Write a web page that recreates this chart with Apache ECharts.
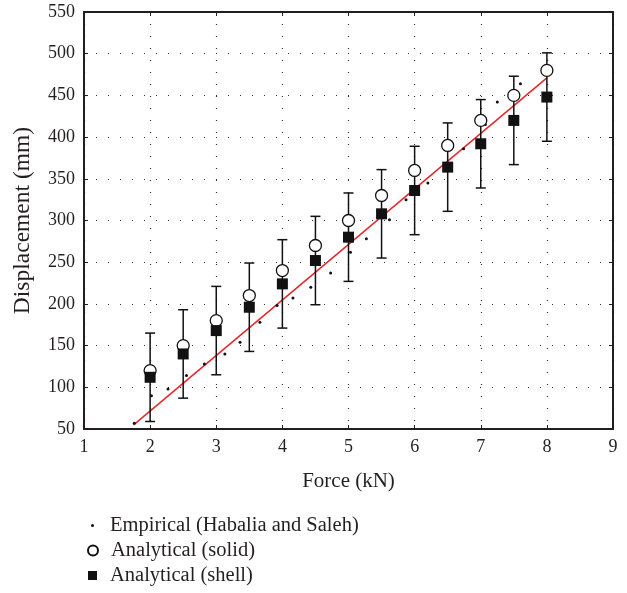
<!DOCTYPE html>
<html>
<head>
<meta charset="utf-8">
<script src="https://cdn.jsdelivr.net/npm/echarts@6/dist/echarts.min.js"></script>
<style>
  html, body { margin: 0; padding: 0; background: #fff; }
  #chart { width: 627px; height: 593px; }
</style>
</head>
<body>
<div id="chart"></div>
<script>
// Force (kN) at which analytical values were computed
const forces = [2, 2.5, 3, 3.5, 4, 4.5, 5, 5.5, 6, 6.5, 7, 7.5, 8];
const solidDisp = [120, 150, 180, 210, 240, 270, 300, 330, 360, 390, 420, 450, 480];
const shellDisp = [112, 140, 168, 196, 224, 252, 280, 308, 336, 364, 392, 420, 448];
const errHigh = [165, 193, 221, 249, 277, 305, 333, 361, 389, 417, 445, 473, 501];
const errLow = [59, 87, 115, 143, 171, 199, 227, 255, 283, 311, 339, 367, 395];

// Empirical points (Habalia and Saleh)
const empForce = [1.76, 2.02, 2.27, 2.55, 2.82, 3.13, 3.36, 3.66, 3.92, 4.16, 4.43, 4.73, 5.03, 5.27, 5.62, 5.87, 6.2, 6.74, 7.07, 7.25, 7.6];
const empDisp = [57, 90, 98, 114, 128, 140, 154, 178, 198, 207, 220, 237, 262, 278, 301, 325, 345, 386, 415, 442, 464];

// red fit line end points
const fitForce = [1.75, 8];
const fitDisp = [55, 471];

const names = ['Empirical (Habalia and Saleh)', 'Analytical (solid)', 'Analytical (shell)'];

const font = 'Liberation Serif';
const ink = '#231f20';
const mark = '#111';

const chart = echarts.init(document.getElementById('chart'));

const frameAxis = (show) => ({
  axisLine: { show: true, onZero: false, lineStyle: { color: ink, width: 2 } },
  axisTick: { show: true, inside: true, length: 4, lineStyle: { color: ink, width: 1 } },
  axisLabel: { show: show, color: ink, fontFamily: font, fontSize: 18, margin: 9 },
  splitLine: { show: false }
});

const gridDots = { show: true, lineStyle: { color: '#333', width: 1.2, type: [1, 11] } };

const legendItem = (name, top, left, size, pad) => ({
  data: [name],
  orient: 'vertical',
  top: top,
  left: left,
  padding: 0,
  itemWidth: size,
  itemHeight: size,
  selectedMode: false,
  textStyle: { color: ink, fontFamily: font, fontSize: 20.5, padding: [0, 0, 0, pad] }
});

chart.setOption({
  animation: false,
  grid: { left: 84, right: 14, top: 12, bottom: 164 },
  legend: [
    legendItem(names[0], 515, 91, 3, 11),
    legendItem(names[1], 540, 87, 10, 8),
    legendItem(names[2], 565, 88, 9, 8)
  ],
  xAxis: [
    Object.assign(frameAxis(true), {
      type: 'value', min: 1, max: 9, interval: 1,
      name: 'Force (kN)', nameLocation: 'middle', nameGap: 42,
      nameTextStyle: { color: ink, fontFamily: font, fontSize: 21 },
      splitLine: gridDots
    }),
    Object.assign(frameAxis(false), {
      type: 'value', min: 1, max: 9, interval: 1, position: 'top'
    })
  ],
  yAxis: [
    Object.assign(frameAxis(true), {
      type: 'value', min: 50, max: 550, interval: 50,
      name: 'Displacement (mm)', nameLocation: 'middle', nameGap: 49,
      nameTextStyle: { color: ink, fontFamily: font, fontSize: 23.5 },
      splitLine: gridDots
    }),
    Object.assign(frameAxis(false), {
      type: 'value', min: 50, max: 550, interval: 50, position: 'right'
    })
  ],
  series: [
    {
      name: 'fit',
      type: 'line',
      data: fitForce.map((f, i) => [f, fitDisp[i]]),
      symbol: 'none',
      lineStyle: { color: '#e8262a', width: 1.5 },
      z: 3
    },
    {
      name: 'errors',
      type: 'custom',
      data: forces.map((f, i) => [f, errLow[i], errHigh[i]]),
      renderItem: (params, api) => {
        const lo = api.coord([api.value(0), api.value(1)]);
        const hi = api.coord([api.value(0), api.value(2)]);
        const hw = 5;
        const style = { stroke: mark, lineWidth: 1.5, fill: null };
        return {
          type: 'group',
          children: [
            { type: 'line', shape: { x1: hi[0], y1: hi[1], x2: lo[0], y2: lo[1] }, style: style },
            { type: 'line', shape: { x1: hi[0] - hw, y1: hi[1], x2: hi[0] + hw, y2: hi[1] }, style: style },
            { type: 'line', shape: { x1: lo[0] - hw, y1: lo[1], x2: lo[0] + hw, y2: lo[1] }, style: style }
          ]
        };
      },
      z: 4
    },
    {
      name: names[0],
      type: 'scatter',
      data: empForce.map((f, i) => [f, empDisp[i]]),
      symbol: 'circle',
      symbolSize: 3,
      itemStyle: { color: mark, opacity: 1 },
      z: 5
    },
    {
      name: names[1],
      type: 'scatter',
      data: forces.map((f, i) => [f, solidDisp[i]]),
      symbol: 'circle',
      symbolSize: 12,
      itemStyle: { color: '#fff', borderColor: mark, borderWidth: 1.3, opacity: 1 },
      z: 6
    },
    {
      name: names[2],
      type: 'scatter',
      data: forces.map((f, i) => [f, shellDisp[i]]),
      symbol: 'rect',
      symbolSize: 11,
      itemStyle: { color: mark, opacity: 1 },
      z: 7
    }
  ]
});
</script>
</body>
</html>
